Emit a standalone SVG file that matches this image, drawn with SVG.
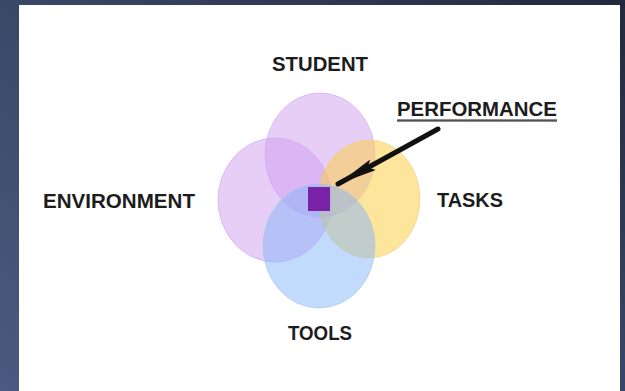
<svg xmlns="http://www.w3.org/2000/svg" width="625" height="391" viewBox="0 0 625 391">
  <defs>
    <linearGradient id="bg" x1="0" y1="1" x2="1" y2="0">
      <stop offset="0" stop-color="#4a5a80"/>
      <stop offset="0.5" stop-color="#3a4868"/>
      <stop offset="1" stop-color="#212a3d"/>
    </linearGradient>
    <marker id="head" viewBox="0 0 40 12" refX="40" refY="6" markerWidth="8" markerHeight="2.4" orient="auto" markerUnits="strokeWidth">
      <path d="M0,0 L40,6 L0,12 L6,6 Z" fill="#111"/>
    </marker>
    <style>
      .lbl { font-family: "Liberation Sans", Arial, sans-serif; font-weight: bold; font-size: 19.5px; fill: #1c1c1c; }
      .ell { stroke-width: 1; }
    </style>
  </defs>
  <rect x="0" y="0" width="625" height="391" fill="url(#bg)"/>
  <rect x="19" y="5" width="601" height="386" fill="#ffffff"/>

  <g id="student"><ellipse class="ell" cx="320" cy="155" rx="55" ry="62" fill="#cf9ef0" fill-opacity="0.5" stroke="#c9a6e6" stroke-opacity="0.6"/></g>
  <g id="environment"><ellipse class="ell" cx="275" cy="200" rx="57" ry="62" fill="#cf9ef0" fill-opacity="0.5" stroke="#c9a6e6" stroke-opacity="0.6"/></g>
  <g id="tasks"><ellipse class="ell" cx="369" cy="199" rx="51" ry="59" fill="#fcd04a" fill-opacity="0.55" stroke="#f0cf80" stroke-opacity="0.6"/></g>
  <g id="tools"><ellipse class="ell" cx="319" cy="246" rx="56" ry="62" fill="#85b5f7" fill-opacity="0.5" stroke="#a9c3ea" stroke-opacity="0.6"/></g>
  <g id="performance-square"><rect x="308" y="187" width="22" height="24" fill="#7a22a8"/></g>

  <g id="connectors">
    <line x1="438" y1="129" x2="338" y2="184" stroke="#111" stroke-width="5" stroke-linecap="round" marker-end="url(#head)"/>
  </g>

  <g id="label-student"><text class="lbl" x="320" y="71" text-anchor="middle" textLength="96" lengthAdjust="spacingAndGlyphs">STUDENT</text></g>
  <g id="label-environment"><text class="lbl" x="43" y="208" textLength="152" lengthAdjust="spacingAndGlyphs">ENVIRONMENT</text></g>
  <g id="label-performance">
    <text class="lbl" x="397" y="116" textLength="160" lengthAdjust="spacingAndGlyphs">PERFORMANCE</text>
    <line x1="397" y1="121" x2="557" y2="121" stroke="#8a8a8a" stroke-width="2"/>
    <line x1="397" y1="120" x2="557" y2="120" stroke="#1c1c1c" stroke-width="1.2"/>
  </g>
  <g id="label-tasks"><text class="lbl" x="437" y="207" textLength="66" lengthAdjust="spacingAndGlyphs">TASKS</text></g>
  <g id="label-tools"><text class="lbl" x="320" y="340" text-anchor="middle" textLength="64" lengthAdjust="spacingAndGlyphs">TOOLS</text></g>
</svg>
